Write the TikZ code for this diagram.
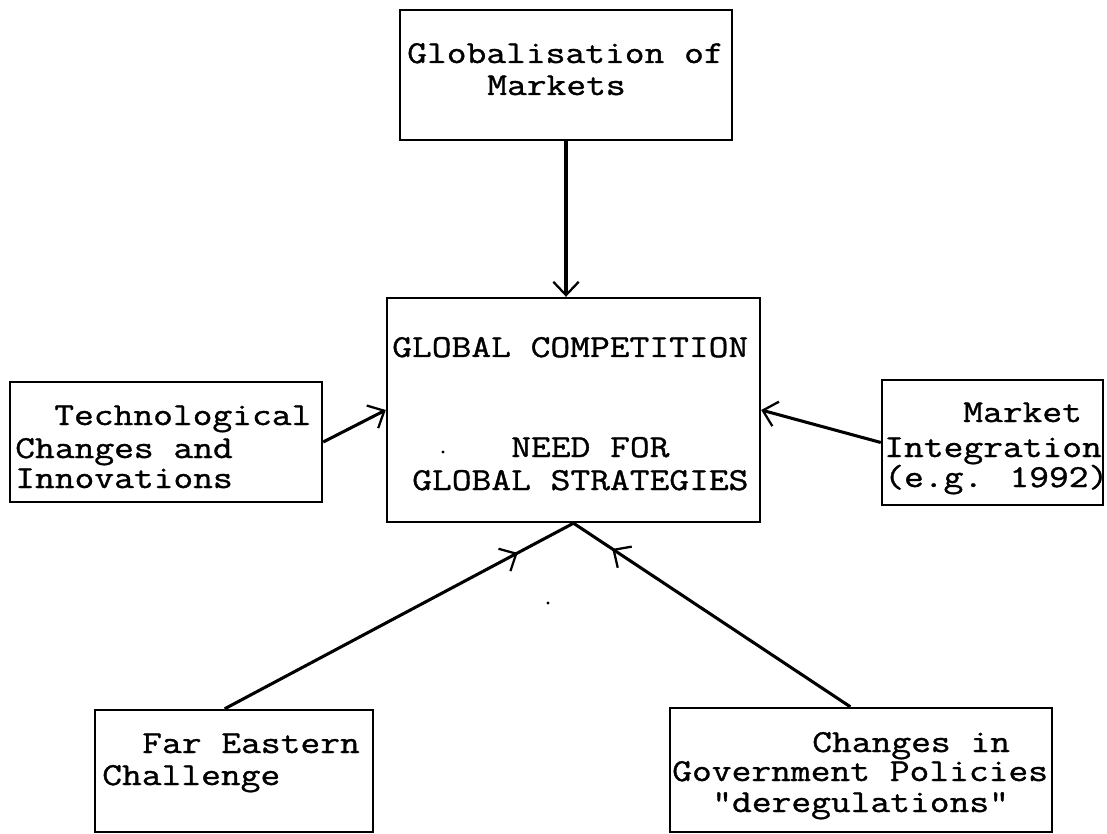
\documentclass[tikz,border=0pt]{standalone}
\usepackage{fontspec}
\newfontfamily\typewriter{Latin Modern Mono}[FakeBold=1.1, FakeStretch=1.20]
\usetikzlibrary{arrows.meta,fit,decorations.markings}
\begin{document}
\begin{tikzpicture}[x=0.75pt,y=-0.75pt,
  box/.style={draw, line width=1.8pt, inner sep=0pt, rectangle},
  txt/.style={anchor=base west, inner sep=0pt, text height=14pt, text depth=4pt,
      font=\typewriter\fontsize{24}{28}\selectfont},
  link/.style={line width=2.3pt},
  barb/.style={-{Straight Barb[length=10pt,width=19pt,line width=1.7pt]}},
  midbarb/.style={postaction={decorate}, decoration={markings,
      mark=at position #1 with {\arrow{Straight Barb[length=10pt,width=19pt,line width=1.7pt]}}}}
]
\useasboundingbox (0,0) rectangle (1107,834);

% boxes
\node[box, fit={(400,10) (732,140)}] (glob) {};
\node[box, fit={(387,298) (760,522)}] (comp) {};
\node[box, fit={(10,382) (322,502)}] (tech) {};
\node[box, fit={(882,380) (1103,505)}] (mkt) {};
\node[box, fit={(95,710) (373,832)}] (far) {};
\node[box, fit={(670,708) (1052,832)}] (gov) {};

% box texts
\node[txt] (glob1) at (407,63) {Globalisation of};
\node[txt] (glob2) at (487,95) {Markets};

\node[txt] (comp1) at (392,357) {GLOBAL COMPETITION};
\node[txt] (comp2) at (511,457) {NEED FOR};
\node[txt] (comp3) at (412,490) {GLOBAL STRATEGIES};

\node[txt] (tech1) at (54,425) {Technological};
\node[txt] (tech2) at (15,458) {Changes and};
\node[txt] (tech3) at (15,488) {Innovations};

\node[txt] (mkt1) at (963,422) {Market};
\node[txt] (mkt2) at (884,457) {Integration};
\node[txt] (mkt3) at (884,487) {(e.g. 1992)};

\node[txt] (far1) at (142,753) {Far Eastern};
\node[txt] (far2) at (102,785) {Challenge};

\node[txt] (gov1) at (812,752) {Changes in};
\node[txt] (gov2) at (672,781) {Government Policies};
\node[txt] (gov3) at (712,812) {"deregulations"};

% stray marks
\fill (443,452) circle (1.6);
\fill (548,603) circle (1.6);

% connectors
\draw[link, barb] (glob.south) -- (glob.south |- comp.north);
\draw[link, barb] (tech.east) -- (comp.west);
\draw[link, barb] (mkt.west) -- (comp.east);
\draw[link, midbarb=0.84] ([xshift=-7]far.north) -- (comp.south);
\draw[link, midbarb=0.86] ([xshift=-8]gov.north) -- (comp.south);
\end{tikzpicture}
\end{document}
